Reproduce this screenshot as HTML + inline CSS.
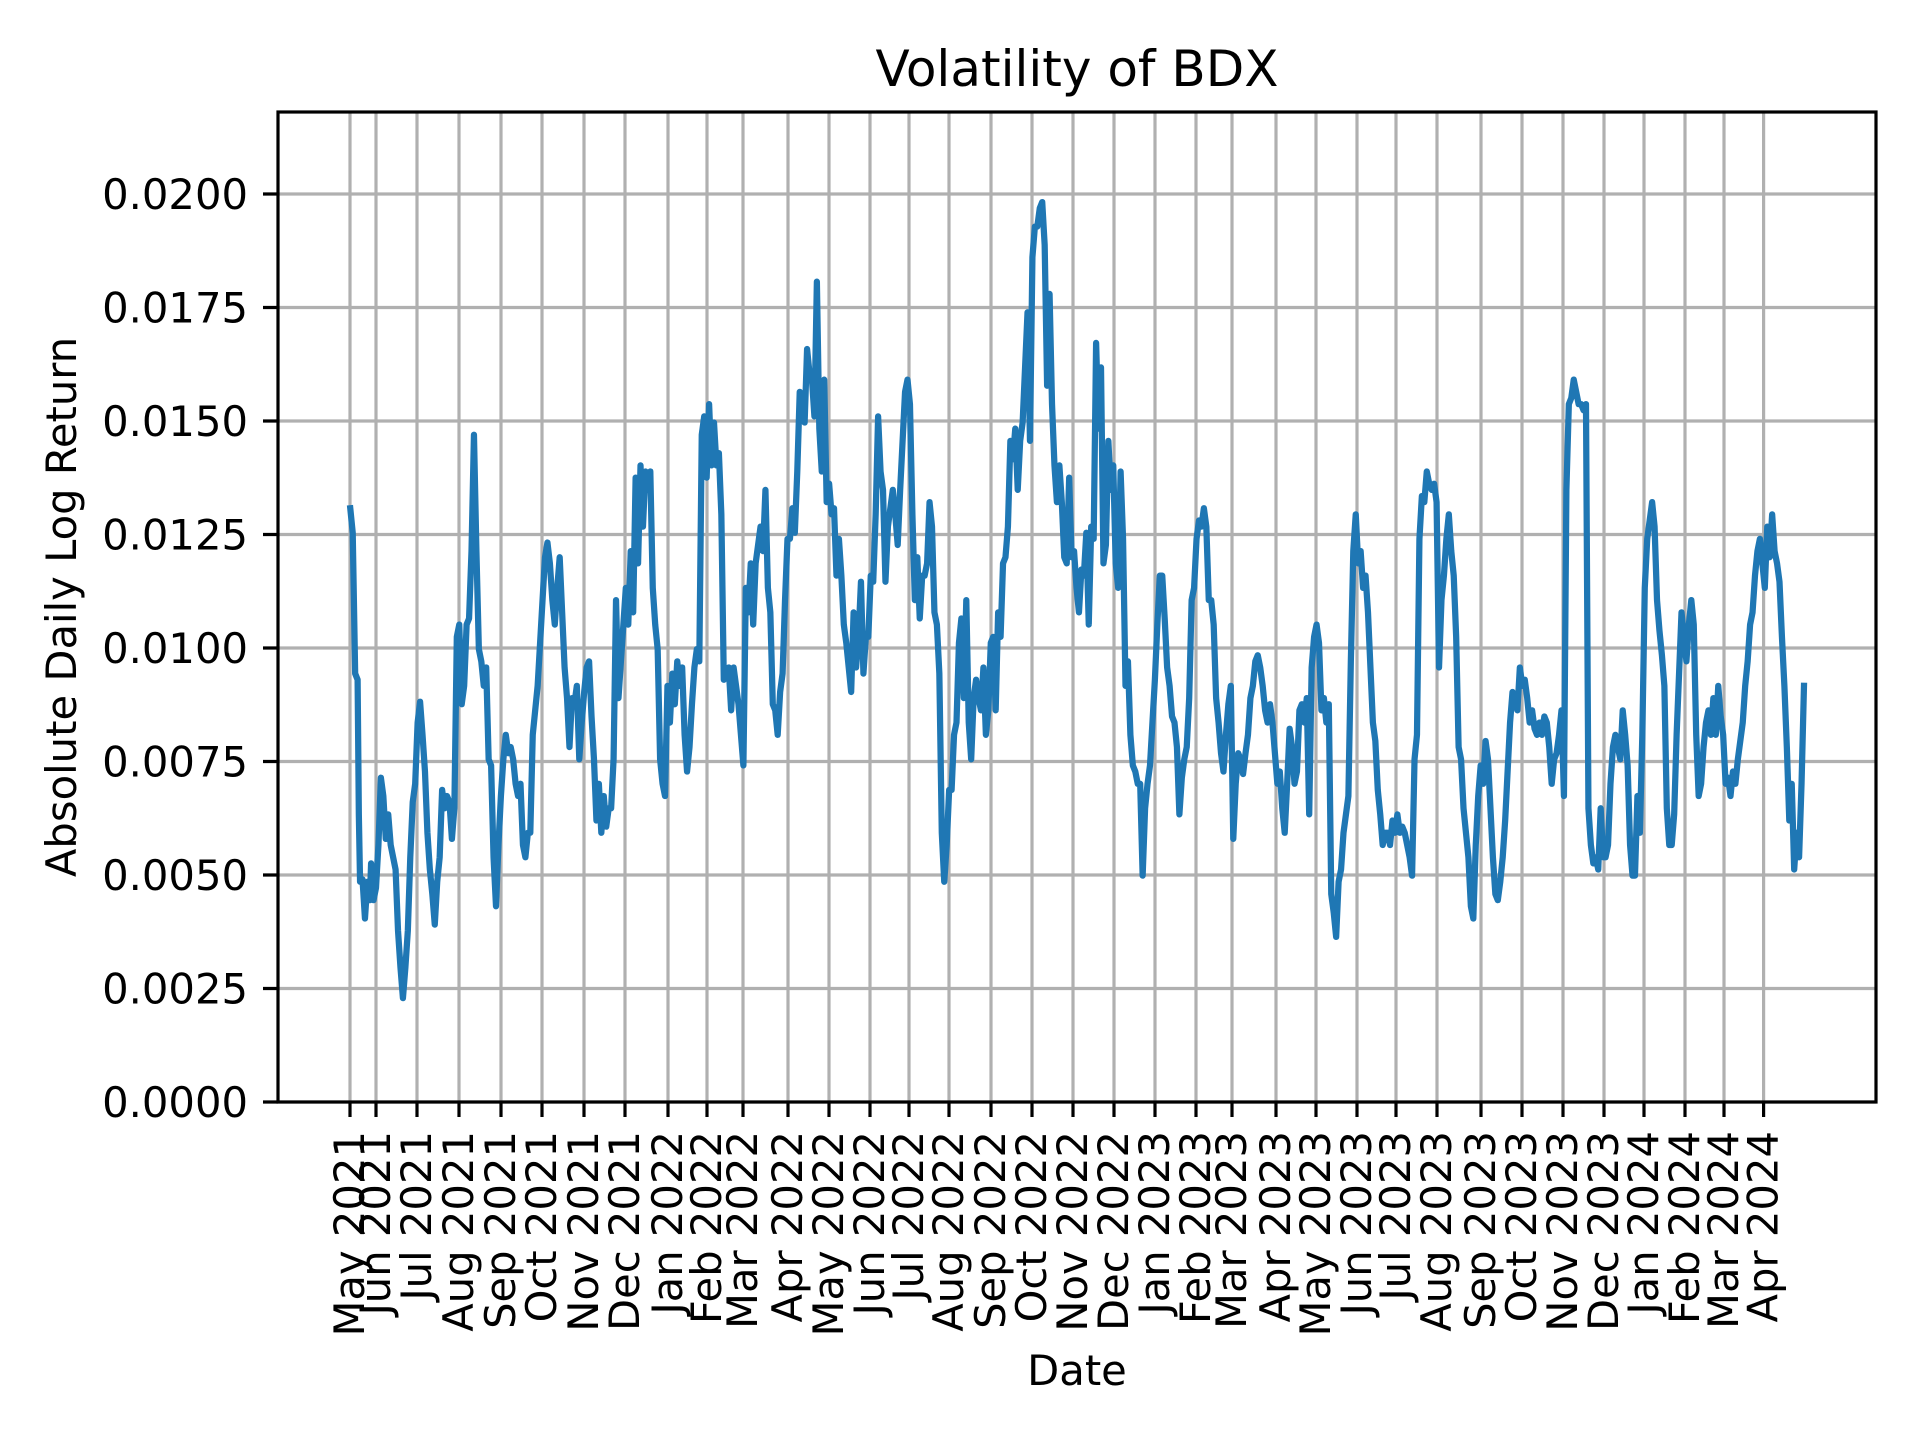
<!DOCTYPE html>
<html><head><meta charset="utf-8"><style>body{margin:0;background:#fff}svg{display:block}</style></head>
<body>
<svg xmlns="http://www.w3.org/2000/svg" width="1920" height="1440" viewBox="0 0 1920 1440" font-family="DejaVu Sans, Liberation Sans, sans-serif">
<rect width="1920" height="1440" fill="#fff"/>
<g stroke="#b0b0b0" stroke-width="3.2" fill="none">
<path d="M278 1102H1876M278 988.5H1876M278 875H1876M278 761.5H1876M278 648H1876M278 534.5H1876M278 421H1876M278 307.5H1876M278 194H1876"/>
<path d="M350 112V1102M376 112V1102M417 112V1102M459 112V1102M501 112V1102M542 112V1102M584 112V1102M625 112V1102M668 112V1102M707 112V1102M743 112V1102M788 112V1102M829 112V1102M870 112V1102M909 112V1102M949 112V1102M991 112V1102M1032 112V1102M1073 112V1102M1114 112V1102M1155 112V1102M1196 112V1102M1232 112V1102M1276 112V1102M1316 112V1102M1357 112V1102M1396 112V1102M1437 112V1102M1481 112V1102M1522 112V1102M1563 112V1102M1604 112V1102M1644 112V1102M1685 112V1102M1724 112V1102M1763.6 112V1102"/>
</g>
<g transform="scale(1.2247)">
<polyline fill="none" stroke="#1f77b4" stroke-width="5.1" stroke-linejoin="round" stroke-linecap="square" points="286,415 288,435 290,550 292,555 293,665 294,720 296,718 298,750 300,720 302,735 303,705 305,735 307,725 309,690 311,635 313,650 315,685 317,665 319,690 321,700 323,710 325,760 327,790 329,815 331,790 333,760 335,700 337,655 339,640 341,590 343,573 345,600 347,630 349,680 351,710 353,730 355,755 357,720 359,700 361,645 363,660 365,650 367,655 369,685 371,660 373,520 375,510 377,575 379,560 381,510 383,505 385,450 387,355 389,450 391,530 393,540 395,560 397,545 399,620 401,625 403,700 405,740 407,690 409,650 411,620 413,600 415,615 417,610 419,620 421,640 423,650 425,640 427,690 429,700 431,680 433,680 435,600 437,580 439,560 441,525 443,490 445,455 447,443 449,460 451,490 453,510 455,480 457,455 459,500 461,545 463,570 465,610 467,570 469,575 471,560 473,620 475,590 477,565 479,545 481,540 483,585 485,620 487,670 489,640 491,680 493,650 495,675 497,660 499,660 501,620 503,490 505,570 507,540 509,510 511,480 513,510 515,450 517,500 519,390 521,460 523,380 525,430 527,385 529,400 531,385 533,480 535,510 537,530 539,620 541,640 543,650 545,560 547,590 549,550 551,575 553,540 555,560 557,545 559,600 561,630 563,610 565,575 567,545 569,530 571,540 573,355 575,340 577,390 579,330 581,380 583,345 585,380 587,370 589,420 591,555 593,550 595,545 597,580 599,545 601,560 603,575 605,600 607,625 609,480 611,500 613,460 615,510 617,460 619,445 621,430 623,450 625,400 627,480 629,500 631,575 633,580 635,600 637,565 639,550 641,490 643,440 645,440 647,415 649,435 651,385 653,320 655,335 657,345 659,285 661,305 663,310 665,340 667,230 669,350 671,385 673,310 675,410 677,395 679,420 681,415 683,470 685,440 687,470 689,510 691,525 693,545 695,565 697,500 699,545 701,520 703,475 705,550 707,520 709,520 711,470 713,475 715,420 717,340 719,385 721,400 723,475 725,430 727,415 729,400 731,420 733,445 735,400 737,360 739,320 741,310 743,330 745,420 747,490 749,455 751,505 753,470 755,470 757,460 759,410 761,430 763,500 765,510 767,550 769,680 771,720 773,690 775,645 777,645 779,600 781,590 783,525 785,505 787,570 789,490 791,590 793,620 795,570 797,555 799,570 801,580 803,545 805,600 807,580 809,525 811,520 813,580 815,500 817,520 819,460 821,455 823,430 825,360 827,375 829,350 831,400 833,360 835,345 837,300 839,255 841,360 843,210 845,185 847,185 849,170 851,165 853,200 855,315 857,240 859,330 861,380 863,410 865,380 867,410 869,455 871,460 873,390 875,455 877,450 879,480 881,500 883,465 885,470 887,435 889,510 891,430 893,440 895,280 897,350 899,300 901,460 903,445 905,360 907,400 909,380 911,460 913,480 915,385 917,440 919,560 921,540 923,600 925,625 927,630 929,640 931,640 933,715 935,660 937,640 939,625 941,590 943,555 945,510 947,470 949,470 951,505 953,545 955,560 957,585 959,590 961,610 963,665 965,635 967,620 969,610 971,570 973,490 975,480 977,440 979,425 981,430 983,415 985,430 987,490 989,490 991,510 993,570 995,590 997,615 999,630 1001,600 1003,575 1005,560 1007,685 1009,640 1011,615 1013,620 1015,632 1017,615 1019,600 1021,570 1023,560 1025,540 1027,535 1029,545 1031,560 1033,580 1035,590 1037,575 1039,590 1041,615 1043,640 1045,630 1047,660 1049,680 1051,640 1053,595 1055,610 1057,640 1059,630 1061,580 1063,575 1065,590 1067,570 1069,665 1071,545 1073,520 1075,510 1077,525 1079,580 1081,570 1083,590 1085,575 1087,730 1089,745 1091,765 1093,720 1095,710 1097,680 1099,665 1101,650 1103,540 1105,450 1107,420 1109,460 1111,450 1113,480 1115,470 1117,500 1119,545 1121,590 1123,605 1125,645 1127,665 1129,690 1131,680 1133,680 1135,690 1137,670 1139,680 1141,665 1143,680 1145,675 1147,680 1149,690 1151,700 1153,715 1155,620 1157,600 1159,440 1161,405 1163,410 1165,385 1167,395 1169,400 1171,395 1173,410 1175,545 1177,490 1179,470 1181,440 1183,420 1185,450 1187,470 1189,520 1191,610 1193,620 1195,660 1197,680 1199,700 1201,740 1203,750 1205,690 1207,650 1209,625 1211,640 1213,605 1215,620 1217,660 1219,700 1221,730 1223,735 1225,720 1227,700 1229,670 1231,630 1233,590 1235,565 1237,570 1239,580 1241,545 1243,560 1245,555 1247,570 1249,590 1251,580 1253,595 1255,600 1257,590 1259,600 1261,585 1263,590 1265,610 1267,640 1269,620 1271,615 1273,600 1275,580 1277,650 1279,400 1281,330 1283,325 1285,310 1287,320 1289,330 1291,330 1293,335 1295,330 1297,660 1299,690 1301,705 1303,700 1305,710 1307,660 1309,700 1311,700 1313,690 1315,640 1317,610 1319,600 1321,610 1323,620 1325,580 1327,600 1329,625 1331,690 1333,715 1335,715 1337,650 1339,680 1341,600 1343,480 1345,440 1347,425 1349,410 1351,430 1353,490 1355,515 1357,535 1359,560 1361,660 1363,690 1365,690 1367,665 1369,600 1371,550 1373,500 1375,520 1377,540 1379,510 1381,490 1383,510 1385,600 1387,650 1389,640 1391,610 1393,590 1395,580 1397,600 1399,570 1401,600 1403,560 1405,585 1407,600 1409,640 1411,635 1413,650 1415,630 1417,640 1419,620 1421,605 1423,590 1425,560 1427,540 1429,510 1431,500 1433,470 1435,450 1437,440 1439,460 1441,480 1443,430 1445,455 1447,420 1449,450 1451,460 1453,475 1455,520 1457,560 1459,610 1461,670 1463,640 1465,710 1467,680 1469,700 1471,640 1473,560"/>
</g>
<rect x="278" y="112" width="1598" height="990" fill="none" stroke="#000" stroke-width="3.2"/>
<g stroke="#000" stroke-width="3.2" fill="none">
<path d="M263 1102H278M263 988.5H278M263 875H278M263 761.5H278M263 648H278M263 534.5H278M263 421H278M263 307.5H278M263 194H278"/>
<path d="M350 1102v15M376 1102v15M417 1102v15M459 1102v15M501 1102v15M542 1102v15M584 1102v15M625 1102v15M668 1102v15M707 1102v15M743 1102v15M788 1102v15M829 1102v15M870 1102v15M909 1102v15M949 1102v15M991 1102v15M1032 1102v15M1073 1102v15M1114 1102v15M1155 1102v15M1196 1102v15M1232 1102v15M1276 1102v15M1316 1102v15M1357 1102v15M1396 1102v15M1437 1102v15M1481 1102v15M1522 1102v15M1563 1102v15M1604 1102v15M1644 1102v15M1685 1102v15M1724 1102v15M1763.6 1102v15"/>
</g>
<g font-size="41.7" text-anchor="end" fill="#000">
<text x="248" y="1117">0.0000</text><text x="248" y="1003.5">0.0025</text><text x="248" y="890">0.0050</text><text x="248" y="776.5">0.0075</text><text x="248" y="663">0.0100</text><text x="248" y="549.5">0.0125</text><text x="248" y="436">0.0150</text><text x="248" y="322.5">0.0175</text><text x="248" y="209">0.0200</text>
</g>
<g font-size="41.7" text-anchor="end" fill="#000">
<text transform="translate(364,1131) rotate(-90)">May 2021</text>
<text transform="translate(390,1131) rotate(-90)">Jun 2021</text>
<text transform="translate(431,1131) rotate(-90)">Jul 2021</text>
<text transform="translate(473,1131) rotate(-90)">Aug 2021</text>
<text transform="translate(515,1131) rotate(-90)">Sep 2021</text>
<text transform="translate(556,1131) rotate(-90)">Oct 2021</text>
<text transform="translate(598,1131) rotate(-90)">Nov 2021</text>
<text transform="translate(639,1131) rotate(-90)">Dec 2021</text>
<text transform="translate(682,1131) rotate(-90)">Jan 2022</text>
<text transform="translate(721,1131) rotate(-90)">Feb 2022</text>
<text transform="translate(757,1131) rotate(-90)">Mar 2022</text>
<text transform="translate(802,1131) rotate(-90)">Apr 2022</text>
<text transform="translate(843,1131) rotate(-90)">May 2022</text>
<text transform="translate(884,1131) rotate(-90)">Jun 2022</text>
<text transform="translate(923,1131) rotate(-90)">Jul 2022</text>
<text transform="translate(963,1131) rotate(-90)">Aug 2022</text>
<text transform="translate(1005,1131) rotate(-90)">Sep 2022</text>
<text transform="translate(1046,1131) rotate(-90)">Oct 2022</text>
<text transform="translate(1087,1131) rotate(-90)">Nov 2022</text>
<text transform="translate(1128,1131) rotate(-90)">Dec 2022</text>
<text transform="translate(1169,1131) rotate(-90)">Jan 2023</text>
<text transform="translate(1210,1131) rotate(-90)">Feb 2023</text>
<text transform="translate(1246,1131) rotate(-90)">Mar 2023</text>
<text transform="translate(1290,1131) rotate(-90)">Apr 2023</text>
<text transform="translate(1330,1131) rotate(-90)">May 2023</text>
<text transform="translate(1371,1131) rotate(-90)">Jun 2023</text>
<text transform="translate(1410,1131) rotate(-90)">Jul 2023</text>
<text transform="translate(1451,1131) rotate(-90)">Aug 2023</text>
<text transform="translate(1495,1131) rotate(-90)">Sep 2023</text>
<text transform="translate(1536,1131) rotate(-90)">Oct 2023</text>
<text transform="translate(1577,1131) rotate(-90)">Nov 2023</text>
<text transform="translate(1618,1131) rotate(-90)">Dec 2023</text>
<text transform="translate(1658,1131) rotate(-90)">Jan 2024</text>
<text transform="translate(1699,1131) rotate(-90)">Feb 2024</text>
<text transform="translate(1738,1131) rotate(-90)">Mar 2024</text>
<text transform="translate(1777.6,1131) rotate(-90)">Apr 2024</text>
</g>
<text x="1077" y="86" font-size="50" text-anchor="middle">Volatility of BDX</text>
<text x="1077" y="1385" font-size="41.7" text-anchor="middle">Date</text>
<text transform="translate(76,607) rotate(-90)" font-size="41.7" text-anchor="middle">Absolute Daily Log Return</text>
</svg>
</body></html>
